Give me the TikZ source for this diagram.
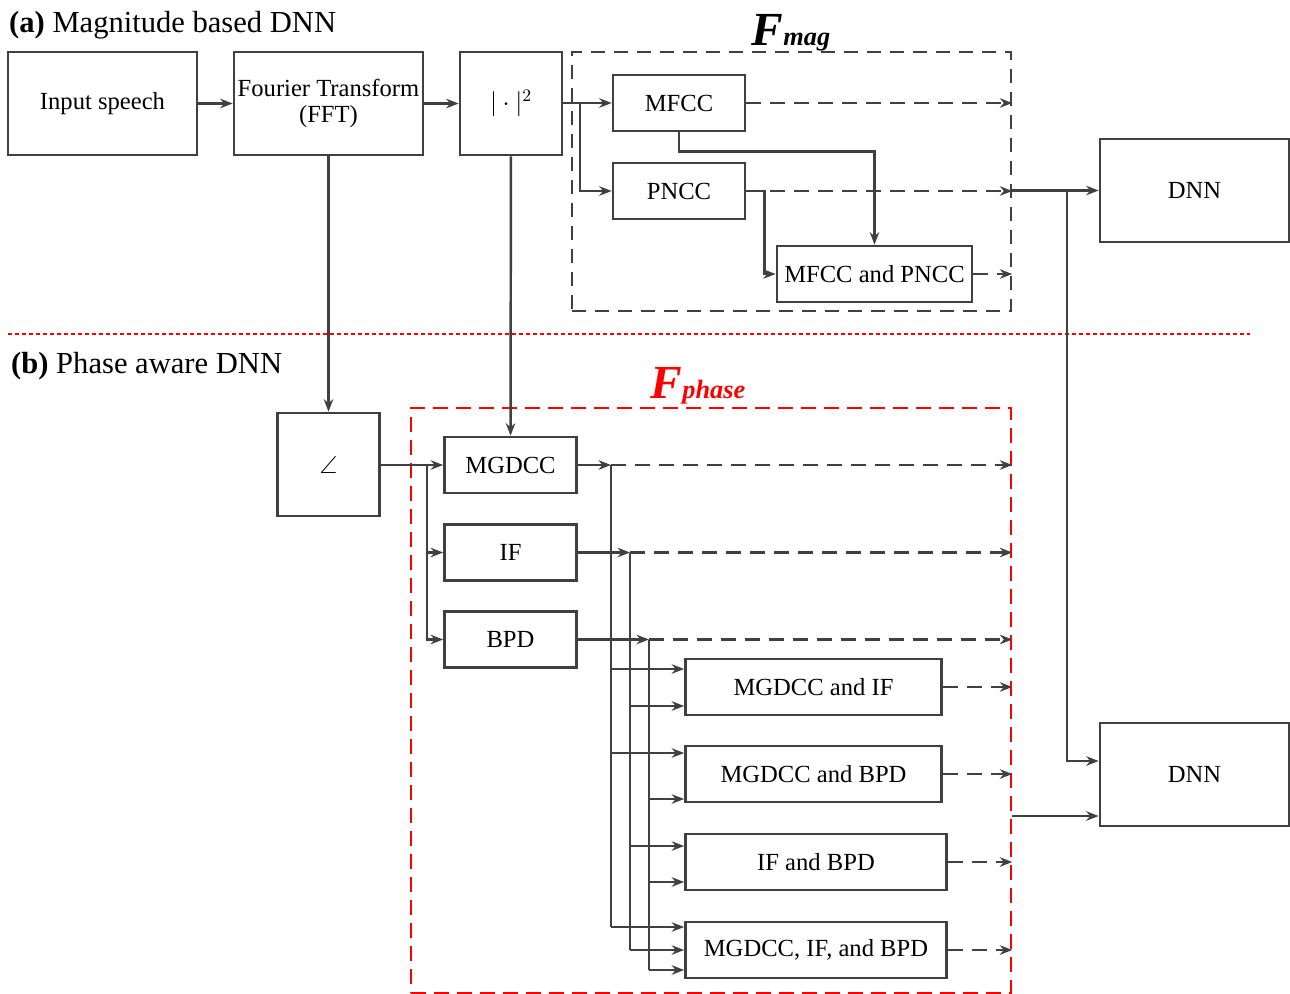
\documentclass[tikz,border=0pt]{standalone}
\usepackage{amsmath,amssymb}
\usepackage{fontspec}
\setmainfont{Liberation Serif}
\usepackage{tikz}
\usetikzlibrary{arrows.meta,positioning}
\definecolor{linegray}{RGB}{64,64,64}

\begin{document}
\begin{tikzpicture}[
    x=0.2mm, y=-0.2mm,
    >={Stealth[length=2.5mm,width=1.9mm]},
    line width=1.4pt,
    block/.style={
      draw=linegray,
      rectangle,
      line width=1.5pt,
      align=center,
      inner sep=0.5pt,
      font=\fontsize{14}{15}\selectfont,
      minimum width=26.4mm,
      minimum height=11.2mm
    },
    bigblock/.style={block, minimum width=37.8mm, minimum height=20.6mm},
    sqblock/.style={block, minimum width=20.4mm, minimum height=20.6mm},
    pairblock/.style={block, minimum width=51.2mm},
    conn/.style={draw=linegray, ->},
    bus/.style={draw=linegray},
    dconn/.style={conn, dash pattern=on 3mm off 1.8mm},
    magframe/.style={draw=linegray, line width=1.5pt, dash pattern=on 2.8mm off 1.8mm, inner sep=0pt},
    phaseframe/.style={draw=red, line width=1.5pt, dash pattern=on 3mm off 1.6mm, inner sep=0pt},
    title/.style={anchor=base west, inner sep=0pt, font=\fontsize{17.4}{19}\selectfont},
    flabel/.style={anchor=base, font=\fontsize{27}{29}\selectfont\bfseries\itshape}
  ]
  \useasboundingbox (0,0) rectangle (1290,994);

  % (a) magnitude branch
  \node[title] (ttla) at (8,32) {\textbf{(a)} Magnitude based DNN};
  \node[bigblock] (speech) at (102.5,103.5) {Input speech};
  \node[bigblock] (fft) at (328.5,103.5) {Fourier Transform\\(FFT)};
  \node[sqblock] (absq) at (511,103.5) {$|\cdot|^2$};
  \node[magframe, minimum width=87.8mm, minimum height=51.8mm] (fmag) at (791.5,181.5) {};
  \node[flabel] (fmaglbl) at (791,45) {F{\fontsize{15}{15}\selectfont mag}};
  \node[block] (mfcc) at (679,103) {MFCC};
  \node[block] (pncc) at (679,191) {PNCC};
  \node[block, minimum width=39mm] (mp) at (874.5,274) {MFCC and PNCC};
  \node[bigblock] (dnna) at (1194.5,190.5) {DNN};
  \node[bigblock] (dnnb) at (1194.5,774.5) {DNN};

  \draw[conn] (speech) -- (fft);
  \draw[conn] (fft) -- (absq);
  \coordinate (mj) at (580,103);
  \draw[conn] (absq.east |- mfcc.west) -- (mfcc.west);
  \draw[conn] (mj) |- (pncc.west);
  \draw[conn] (mfcc.south) -- ++(0,19) -| (mp.north);
  \draw[conn] (pncc.east) -- ++(18,0) |- (mp.west);
  \draw[dconn] (mfcc) -- (fmag.east |- mfcc);
  \draw[dconn] (pncc) -- (fmag.east |- pncc);
  \draw[dconn] (mp) -- (fmag.east |- mp);

  % separator
  \draw[red, line width=1.2pt, dash pattern=on 0.8mm off 0.6mm] (8,334) -- (1250,334);

  % (b) phase branch
  \node[title] (ttlb) at (10,373) {\textbf{(b)} Phase aware DNN};
  \node[sqblock] (ang) at (328.5,464.5) {$\angle$};
  \node[phaseframe, minimum width=120mm, minimum height=117mm] (fph) at (711,700.5) {};
  \node[flabel, red] (fphlbl) at (698,398) {F{\fontsize{15}{15}\selectfont phase}};
  \node[block] (mgdcc) at (510.5,465) {MGDCC};
  \node[block] (ifb) at (510.5,552.5) {IF};
  \node[block] (bpd) at (510.5,639.5) {BPD};
  \node[pairblock] (mi) at (813.5,687) {MGDCC and IF};
  \node[pairblock] (mb) at (813.5,774) {MGDCC and BPD};
  \node[pairblock, minimum width=52.2mm] (ib) at (816,862) {IF and BPD};
  \node[pairblock, minimum width=52.2mm] (mib) at (816,950) {MGDCC, IF, and BPD};

  \draw[conn] (fft) -- (ang);
  \draw[conn] (absq) -- (mgdcc);
  \draw[conn] (ang.east |- mgdcc) -- (mgdcc);
  \coordinate (aj) at (427,465);
  \draw[conn] (aj) |- (ifb.west);
  \draw[conn] (aj) |- (bpd.west);

  \coordinate (bm) at (611,465);
  \coordinate (bi) at (630,552.5);
  \coordinate (bb) at (649,639.5);
  \draw[conn] (mgdcc) -- (bm);
  \draw[conn] (ifb) -- (bi);
  \draw[conn] (bpd) -- (bb);
  \draw[dconn] (bm) -- (fph.east |- bm);
  \draw[dconn] (bi) -- (fph.east |- bi);
  \draw[dconn] (bb) -- (fph.east |- bb);

  \path (mi.west) ++(0,-18) coordinate (mi1) ++(0,37) coordinate (mi2);
  \path (mb.west) ++(0,-21) coordinate (mb1) ++(0,46) coordinate (mb2);
  \path (ib.west) ++(0,-16) coordinate (ib1) ++(0,36) coordinate (ib2);
  \path (mib.west) ++(0,-23) coordinate (mib1) ++(0,23) coordinate (mib2) ++(0,20) coordinate (mib3);
  \draw[bus] (bm) -- (bm |- mib1);
  \draw[bus] (bi) -- (bi |- mib2);
  \draw[bus] (bb) -- (bb |- mib3);
  \draw[conn] (bm |- mi1) -- (mi1);
  \draw[conn] (bi |- mi2) -- (mi2);
  \draw[conn] (bm |- mb1) -- (mb1);
  \draw[conn] (bb |- mb2) -- (mb2);
  \draw[conn] (bi |- ib1) -- (ib1);
  \draw[conn] (bb |- ib2) -- (ib2);
  \draw[conn] (bm |- mib1) -- (mib1);
  \draw[conn] (bi |- mib2) -- (mib2);
  \draw[conn] (bb |- mib3) -- (mib3);
  \draw[dconn] (mi) -- (fph.east |- mi);
  \draw[dconn] (mb) -- (fph.east |- mb);
  \draw[dconn] (ib) -- (fph.east |- ib);
  \draw[dconn] (mib) -- (fph.east |- mib);

  % to the DNNs
  \coordinate (split) at (1067,190.5);
  \path (dnnb.west) ++(0,-13.5) coordinate (dnnb1) ++(0,55) coordinate (dnnb2);
  \draw[conn] (fmag.east |- dnna) -- (dnna);
  \draw[conn] (split) |- (dnnb1);
  \draw[conn] (fph.east |- dnnb2) -- (dnnb2);
\end{tikzpicture}
\end{document}
